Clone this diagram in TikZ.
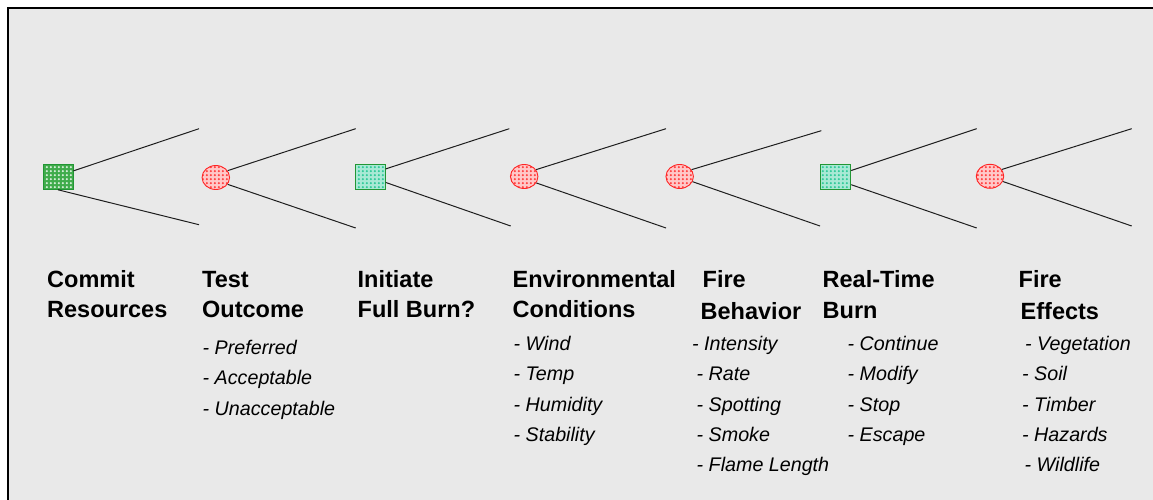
\documentclass[tikz,border=0pt]{standalone}
\usepackage{fontspec}
\setmainfont{Liberation Sans}
\usetikzlibrary{shapes.geometric,patterns}

% small dot grid used to shade the decision and chance nodes
\pgfdeclarepatternformonly{nodedots}{\pgfqpoint{0pt}{0pt}}{\pgfqpoint{3.8pt}{3.8pt}}{\pgfqpoint{3.8pt}{3.8pt}}{%
  \pgfpathcircle{\pgfqpoint{1.9pt}{1.9pt}}{1.2pt}\pgfusepath{fill}}

\definecolor{panel}{RGB}{233,233,233}
\definecolor{decgreen}{RGB}{34,150,52}
\definecolor{decfill}{RGB}{64,172,76}
\definecolor{tealdot}{RGB}{40,200,150}
\definecolor{chancered}{RGB}{255,36,36}
\definecolor{branchcol}{RGB}{30,30,30}

\tikzset{
  decision/.style={rectangle, draw=decgreen, line width=1pt,
    minimum width=30pt, minimum height=25pt, inner sep=0pt},
  decgreenbox/.style={decision, preaction={fill=decfill},
    pattern=nodedots, pattern color=white!85!decfill},
  dectealbox/.style={decision, preaction={fill=tealdot!40!white},
    pattern=nodedots, pattern color=tealdot},
  chance/.style={ellipse, draw=chancered, line width=0.9pt,
    minimum width=27.5pt, minimum height=24pt, inner sep=0pt,
    preaction={fill=chancered!25!white}, pattern=nodedots, pattern color=chancered!90},
  branch/.style={draw=branchcol, line width=1pt},
  title/.style={anchor=base west, inner sep=0pt,
    font=\fontsize{23.5}{28}\selectfont\bfseries},
  item/.style={anchor=base west, inner sep=0pt,
    font=\fontsize{19.7}{24}\selectfont\itshape},
}

\begin{document}
\begin{tikzpicture}[x=1pt, y=-1pt]
  \useasboundingbox (0,0) rectangle (1153,500);
  % background panel with its left and top frame
  \fill[white] (0,0) rectangle (1153,500);
  \fill[panel] (8,8) rectangle (1153,500);
  \draw[line width=2pt, black] (7.8,500) -- (7.8,7.8) -- (1153,7.8);

  % decision (square) and chance (round) nodes
  \node[decgreenbox] (d1) at (58,176.8) {};
  \node[chance]      (c1) at (215.8,177.5) {};
  \node[dectealbox]  (d2) at (370.2,176.8) {};
  \node[chance]      (c2) at (524.2,176.5) {};
  \node[chance]      (c3) at (679.7,176.5) {};
  \node[dectealbox]  (d3) at (835.7,176.8) {};
  \node[chance]      (c4) at (990,176.3) {};

  % open ends of the branches
  \coordinate (d1u) at (199,128.7);    \coordinate (d1l) at (199,224.7);
  \coordinate (c1u) at (355.7,128.7);  \coordinate (c1l) at (355.7,228);
  \coordinate (d2u) at (509.3,128.7);  \coordinate (d2l) at (510.7,226);
  \coordinate (c2u) at (666,128.7);    \coordinate (c2l) at (666,228);
  \coordinate (c3u) at (821.3,130.7);  \coordinate (c3l) at (820,226);
  \coordinate (d3u) at (976.7,128.7);  \coordinate (d3l) at (976.7,228);
  \coordinate (c4u) at (1131.7,128.7); \coordinate (c4l) at (1131.7,226);

  % branches
  \draw[branch] (d1.21) -- (d1u);  \draw[branch] (d1.south) -- (d1l);
  \draw[branch] (c1.30) -- (c1u);  \draw[branch] (c1.-30) -- (c1l);
  \draw[branch] (d2.27) -- (d2u);  \draw[branch] (d2.-20) -- (d2l);
  \draw[branch] (c2.30) -- (c2u);  \draw[branch] (c2.-28) -- (c2l);
  \draw[branch] (c3.30) -- (c3u);  \draw[branch] (c3.-22) -- (c3l);
  \draw[branch] (d3.22) -- (d3u);  \draw[branch] (d3.-27) -- (d3l);
  \draw[branch] (c4.30) -- (c4u);  \draw[branch] (c4.-22) -- (c4l);

  % stage titles
  \node[title] (cr1) at (47,287) {Commit};
  \node[title] (cr2) at (47,317) {Resources};
  \node[title] (to1) at (202,287) {Test};
  \node[title] (to2) at (202,317) {Outcome};
  \node[title] (ib1) at (357.5,287) {Initiate};
  \node[title] (ib2) at (357.5,317) {Full Burn?};
  \node[title] (ec1) at (512.5,287) {Environmental};
  \node[title] (ec2) at (512.5,317) {Conditions};
  \node[title] (fb1) at (702.5,287) {Fire};
  \node[title] (fb2) at (700.5,319) {Behavior};
  \node[title] (rt1) at (822.5,287) {Real-Time};
  \node[title] (rt2) at (822.5,318) {Burn};
  \node[title] (fe1) at (1018.5,287) {Fire};
  \node[title] (fe2) at (1020.5,319) {Effects};

  % outcomes listed under each stage
  \node[item] (to3) at (202.5,354)   {- Preferred};
  \node[item] (to4) at (202.5,384.5) {- Acceptable};
  \node[item] (to5) at (202.5,415)   {- Unacceptable};

  \node[item] (ec3) at (513.5,350)   {- Wind};
  \node[item] (ec4) at (513.5,380.7) {- Temp};
  \node[item] (ec5) at (513.5,411)   {- Humidity};
  \node[item] (ec6) at (513.5,441.7) {- Stability};

  \node[item] (fb3) at (692,350)     {- Intensity};
  \node[item] (fb4) at (696.5,380.7) {- Rate};
  \node[item] (fb5) at (696.5,411)   {- Spotting};
  \node[item] (fb6) at (696.5,441.7) {- Smoke};
  \node[item] (fb7) at (696.5,471.7) {- Flame Length};

  \node[item] (rt3) at (847.5,350)   {- Continue};
  \node[item] (rt4) at (847.5,380.7) {- Modify};
  \node[item] (rt5) at (847.5,411)   {- Stop};
  \node[item] (rt6) at (847.5,441.7) {- Escape};

  \node[item] (fe3) at (1025,350)    {- Vegetation};
  \node[item] (fe4) at (1022,380.7)  {- Soil};
  \node[item] (fe5) at (1022,411)    {- Timber};
  \node[item] (fe6) at (1022,441.7)  {- Hazards};
  \node[item] (fe7) at (1024.5,471.7) {- Wildlife};
\end{tikzpicture}
\end{document}
